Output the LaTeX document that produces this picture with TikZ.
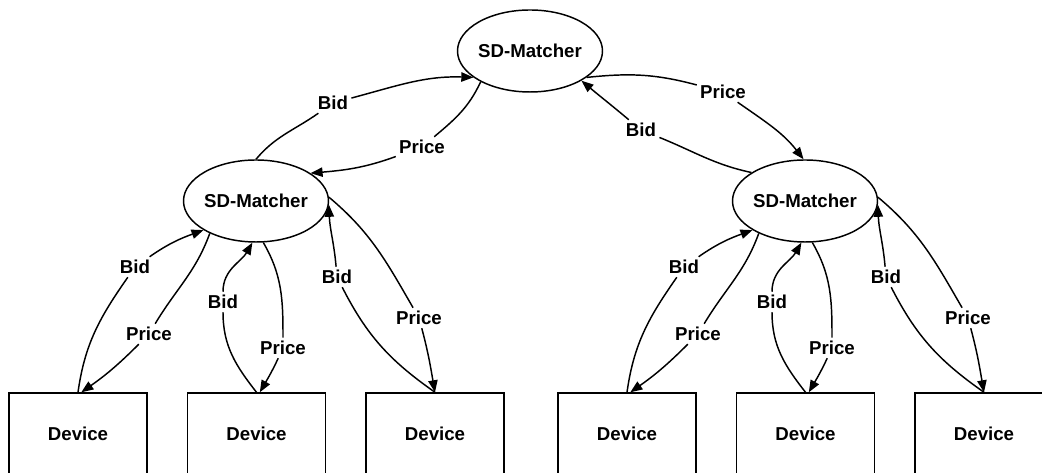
\documentclass[tikz,border=0pt]{standalone}
\usepackage{fontspec}
\setmainfont{Liberation Sans}
\usetikzlibrary{shapes.geometric,arrows.meta,calc}
\begin{document}
\begin{tikzpicture}[x=0.75pt,y=0.75pt,
  line width=1.1pt,
  every node/.style={font=\fontsize{14}{16}\selectfont\bfseries},
  ell/.style={ellipse,draw,inner sep=0pt,minimum width=108.75pt,minimum height=61.5pt},
  dev/.style={rectangle,draw,inner sep=0pt,minimum width=103.5pt,minimum height=61.1pt},
  lbl/.style={inner sep=2pt},
  arr/.style={-{Triangle[length=9pt,width=7pt]}}]
\useasboundingbox (0,0) rectangle (1042,473);
\clip (0,0) rectangle (1042,473);

\node[ell] (T) at (530,422) {\makebox[0pt]{SD-Matcher}};
\node[ell] (L) at (256,272) {\makebox[0pt]{SD-Matcher}};
\node[ell] (R) at (805,272) {\makebox[0pt]{SD-Matcher}};

\node[lbl] (tb1) at (333,370) {Bid};
\node[lbl] (tp1) at (422,326) {Price};
\node[lbl] (tp2) at (723,381) {Price};
\node[lbl] (tb2) at (641,343) {Bid};

\draw[arr] (L.90) to[out=50,in=215] (tb1) to[out=15,in=178] (T.205);
\draw[arr] (T.212) to[out=245,in=40] (tp1) to[out=200,in=5] (L.27);
\draw[arr] (T.-25) to[out=6,in=165] (tp2) to[out=-35,in=128] (R.92);
\draw[arr] (R.152) to[out=168,in=-22] (tb2) to[out=140,in=-40] (T.-30);

\foreach \g/\dx in {L/0,R/549}{
  \node[dev] (d1\g) at (\dx+78,39.25) {Device};
  \node[dev] (d2\g) at (\dx+256.5,39.25) {Device};
  \node[dev] (d3\g) at (\dx+435,39.25) {Device};
  \node[lbl] (b1\g) at (\dx+135,206) {Bid};
  \node[lbl] (p1\g) at (\dx+149,139) {Price};
  \node[lbl] (b2\g) at (\dx+223,171) {Bid};
  \node[lbl] (p2\g) at (\dx+283,125) {Price};
  \node[lbl] (b3\g) at (\dx+337,196) {Bid};
  \node[lbl] (p3\g) at (\dx+419,155) {Price};
  \draw[arr] (d1\g.north) to[out=82,in=235] (b1\g) to[out=35,in=200] (\g.209);
  \draw[arr] (\g.215) to[out=250,in=59] (p1\g) to[out=225,in=35] ([xshift=2.5pt]d1\g.north);
  \draw[arr] (d2\g.north) to[out=128,in=-90] (b2\g) to[out=90,in=240] (\g.-95);
  \draw[arr] (\g.-80) to[out=-60,in=90] (p2\g) to[out=-115,in=60] ([xshift=2.5pt]d2\g.north);
  \draw[arr] (d3\g.north) to[out=145,in=-63] (b3\g) to[out=95,in=-88] (\g.-3);
  \draw[arr] (\g.3) to[out=-40,in=120] (p3\g) to[out=-75,in=100] (d3\g.north);
}
\end{tikzpicture}
\end{document}
